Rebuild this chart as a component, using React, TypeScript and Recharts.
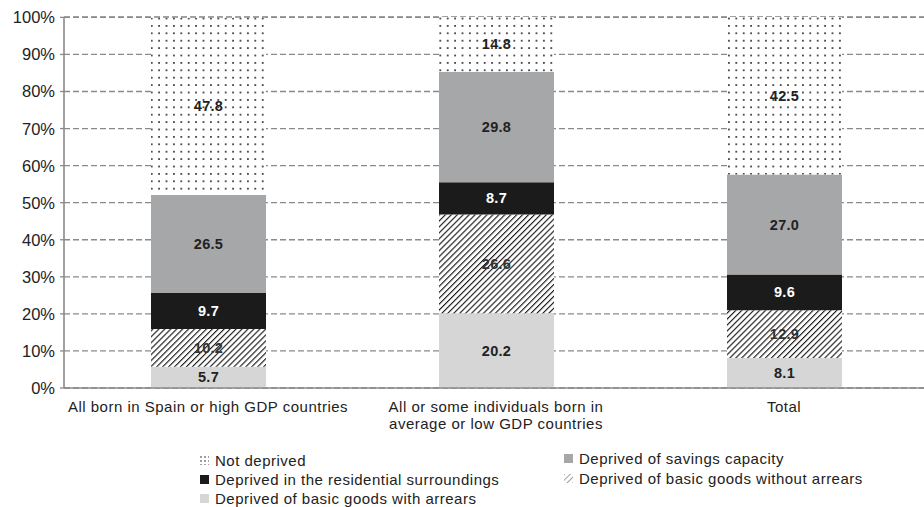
import React from "react";
import { BarChart, Bar, XAxis, YAxis, CartesianGrid, LabelList } from "recharts";

const categories = [
  "All born in Spain or high GDP countries",
  "All or some individuals born in average or low GDP countries",
  "Total",
];
const withArrears = [5.7, 20.2, 8.1];
const withoutArrears = [10.2, 26.6, 12.9];
const residential = [9.7, 8.7, 9.6];
const savings = [26.5, 29.8, 27.0];
const notDeprived = [47.8, 14.8, 42.5];
const yTicks = [0, 10, 20, 30, 40, 50, 60, 70, 80, 90, 100];

const data = categories.map((c, i) => ({
  name: c,
  withArrears: withArrears[i],
  withoutArrears: withoutArrears[i],
  residential: residential[i],
  savings: savings[i],
  notDeprived: notDeprived[i],
}));

const FONT = "'Liberation Sans', Arial, sans-serif";

const makeLabel = (color: string) => (props: any) => {
  const { x, y, width, height, value } = props;
  return (
    <text
      x={Number(x) + Number(width) / 2}
      y={Number(y) + Number(height) / 2}
      textAnchor="middle"
      dominantBaseline="central"
      fill={color}
      fontSize={14.5}
      fontWeight="bold"
      fontFamily={FONT}
      letterSpacing={0.3}
    >
      {Number(value).toFixed(1)}
    </text>
  );
};

const XTick = (props: any) => {
  const { x, y, payload } = props;
  const label: string = payload.value;
  let lines = [label];
  if (label.startsWith("All or some")) {
    lines = ["All or some individuals born in", "average or low GDP countries"];
  }
  return (
    <g>
      {lines.map((l, i) => (
        <text
          key={i}
          x={x}
          y={y + 16 + i * 17}
          textAnchor="middle"
          fill="#222"
          fontSize={15}
          letterSpacing={0.5}
          fontFamily={FONT}
        >
          {l}
        </text>
      ))}
    </g>
  );
};

const YTick = (props: any) => {
  const { x, y, payload } = props;
  return (
    <text
      x={x - 3}
      y={y}
      textAnchor="end"
      dominantBaseline="central"
      fill="#222"
      fontSize={16.5}
      fontFamily={FONT}
    >
      {payload.value}%
    </text>
  );
};

const legendItems = [
  { label: "Not deprived", fill: "url(#dotsLeg)", x: 200, y: 460 },
  { label: "Deprived in the residential surroundings", fill: "#1b1b1b", x: 200, y: 479 },
  { label: "Deprived of basic goods with arrears", fill: "#d6d6d7", x: 200, y: 498 },
  { label: "Deprived of savings capacity", fill: "#a6a7a9", x: 564, y: 458 },
  { label: "Deprived of basic goods without arrears", fill: "url(#hatchLeg)", x: 564, y: 478 },
];

export default function App() {
  return (
    <div style={{ position: "absolute", left: 0, top: 0, width: 924, height: 507, background: "#fff", overflow: "hidden" }}>
      <svg width={0} height={0} style={{ position: "absolute" }}>
        <defs>
          <pattern id="hatch" patternUnits="userSpaceOnUse" width={4.2} height={4.2} patternTransform="rotate(45)">
            <rect width={4.2} height={4.2} fill="#fff" />
            <line x1={0} y1={0} x2={0} y2={4.2} stroke="#1b1b1b" strokeWidth={2.3} />
          </pattern>
          <pattern id="dots" patternUnits="userSpaceOnUse" width={7.4} height={7.4}>
            <rect width={7.4} height={7.4} fill="#fff" />
            <circle cx={3.7} cy={3.7} r={1} fill="#222" />
          </pattern>
          <pattern id="hatchLeg" patternUnits="userSpaceOnUse" width={4} height={4} patternTransform="rotate(45)">
            <rect width={4} height={4} fill="#fff" />
            <line x1={0} y1={0} x2={0} y2={4} stroke="#444" strokeWidth={1} />
          </pattern>
          <pattern id="dotsLeg" patternUnits="userSpaceOnUse" width={4} height={4}>
            <rect width={4} height={4} fill="#fff" />
            <circle cx={1} cy={1} r={0.8} fill="#222" />
          </pattern>
        </defs>
      </svg>
      <BarChart
        width={928}
        height={507}
        data={data}
        margin={{ top: 17, right: 0, bottom: 69, left: 0 }}
        barCategoryGap={0}
      >
        <CartesianGrid vertical={false} stroke="#8a8a8a" strokeDasharray="6 3" strokeWidth={1.3} />
        <YAxis
          type="number"
          domain={[0, 100]}
          ticks={yTicks}
          width={64}
          interval={0}
          axisLine={{ stroke: "#8a8a8a", strokeWidth: 1.6 }}
          tickLine={{ stroke: "#8a8a8a", strokeWidth: 1.3 }}
          tickSize={4}
          tick={<YTick />}
        />
        <XAxis
          dataKey="name"
          height={50}
          interval={0}
          axisLine={{ stroke: "#8a8a8a", strokeWidth: 1.6 }}
          tickLine={false}
          tick={<XTick />}
        />
        <Bar dataKey="withArrears" stackId="a" barSize={115} fill="#d6d6d7" isAnimationActive={false}>
          <LabelList dataKey="withArrears" content={makeLabel("#222")} />
        </Bar>
        <Bar dataKey="withoutArrears" stackId="a" barSize={115} fill="url(#hatch)" isAnimationActive={false}>
          <LabelList dataKey="withoutArrears" content={makeLabel("#333")} />
        </Bar>
        <Bar dataKey="residential" stackId="a" barSize={115} fill="#1b1b1b" isAnimationActive={false}>
          <LabelList dataKey="residential" content={makeLabel("#fff")} />
        </Bar>
        <Bar dataKey="savings" stackId="a" barSize={115} fill="#a6a7a9" isAnimationActive={false}>
          <LabelList dataKey="savings" content={makeLabel("#222")} />
        </Bar>
        <Bar dataKey="notDeprived" stackId="a" barSize={115} fill="url(#dots)" isAnimationActive={false}>
          <LabelList dataKey="notDeprived" content={makeLabel("#222")} />
        </Bar>
      </BarChart>
      {legendItems.map((it, i) => (
        <div
          key={i}
          style={{
            position: "absolute",
            left: it.x,
            top: it.y - 10,
            height: 20,
            display: "flex",
            alignItems: "center",
            fontFamily: FONT,
            fontSize: 15,
            letterSpacing: 0.5,
            color: "#222",
            whiteSpace: "nowrap",
          }}
        >
          <svg width={9} height={9} style={{ marginRight: 6 }}>
            <rect width={9} height={9} fill={it.fill} />
          </svg>
          {it.label}
        </div>
      ))}
    </div>
  );
}
